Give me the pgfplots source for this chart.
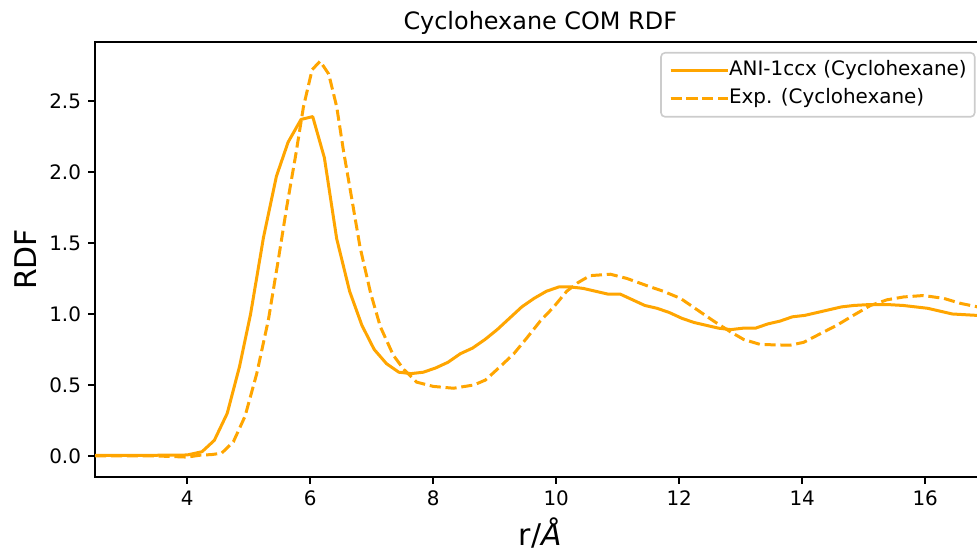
\documentclass[border=0pt]{standalone}
\usepackage{fontspec}
\setmainfont{DejaVu Sans}
\usepackage{pgfplots}
\pgfplotsset{compat=1.18}
\definecolor{mplorange}{HTML}{FFA500}

\pgfplotstableread{
x y
2.5 0.005
3.0 0.005
3.5 0.005
4.0 0.007
4.24 0.03
4.44 0.11
4.65 0.30
4.85 0.63
5.03 1.00
5.24 1.54
5.45 1.97
5.64 2.21
5.85 2.37
6.04 2.39
6.23 2.10
6.43 1.53
6.64 1.16
6.84 0.92
7.04 0.75
7.24 0.65
7.44 0.59
7.64 0.58
7.84 0.59
8.04 0.62
8.24 0.66
8.44 0.72
8.64 0.76
8.84 0.82
9.04 0.89
9.24 0.97
9.44 1.05
9.64 1.11
9.84 1.16
10.04 1.19
10.24 1.19
10.44 1.18
10.64 1.16
10.84 1.14
11.04 1.14
11.24 1.10
11.44 1.06
11.64 1.04
11.84 1.01
12.04 0.97
12.24 0.94
12.44 0.92
12.64 0.90
12.84 0.89
13.04 0.90
13.24 0.90
13.44 0.93
13.64 0.95
13.84 0.98
14.04 0.99
14.24 1.01
14.44 1.03
14.64 1.05
14.84 1.06
15.04 1.065
15.24 1.065
15.44 1.065
15.64 1.06
15.84 1.05
16.04 1.04
16.24 1.02
16.44 1.00
16.64 0.995
16.84 0.99
17.04 0.99
}\ani

\pgfplotstableread{
x y
2.5 0.0
3.0 0.0
3.5 0.0
4.0 -0.008
4.2 0.005
4.4 0.01
4.56 0.02
4.75 0.10
4.94 0.28
5.13 0.58
5.32 0.96
5.48 1.38
5.62 1.76
5.76 2.11
5.89 2.46
6.03 2.72
6.16 2.78
6.30 2.69
6.43 2.46
6.54 2.15
6.68 1.80
6.81 1.47
6.98 1.15
7.14 0.91
7.35 0.71
7.52 0.61
7.73 0.52
8.0 0.49
8.33 0.477
8.66 0.50
8.85 0.535
9.09 0.63
9.31 0.72
9.52 0.83
9.74 0.95
9.96 1.05
10.17 1.16
10.35 1.22
10.55 1.27
10.88 1.28
11.15 1.25
11.47 1.20
11.74 1.16
12.02 1.11
12.29 1.03
12.56 0.95
12.83 0.875
13.05 0.82
13.32 0.785
13.80 0.78
14.02 0.80
14.29 0.86
14.56 0.92
14.83 0.99
15.11 1.06
15.38 1.10
15.65 1.12
15.97 1.13
16.30 1.11
16.57 1.075
16.85 1.05
17.0 1.03
}\expt

\begin{document}
\begin{tikzpicture}
\begin{axis}[
  name=ax,
  scale only axis,
  width=445.25bp, height=217.35bp,
  xmin=2.5, xmax=16.98,
  ymin=-0.146, ymax=2.9155,
  xtick={4,6,...,16},
  ytick={0,0.5,...,2.5},
  yticklabel style={/pgf/number format/.cd, fixed, fixed zerofill, precision=1},
  /pgf/number format/assume math mode=true,
  tick align=outside,
  xtick pos=bottom, ytick pos=left,
  major tick length=3.5bp,
  every tick/.style={black, line width=0.8bp},
  axis line style={line width=0.8bp, black},
  tick label style={font=\fontsize{10}{12}\selectfont},
  legend style={at={(1,1)}, anchor=north east, xshift=-5bp, yshift=-5bp,
    draw=black!20, fill=white, fill opacity=0.8, text opacity=1,
    rounded corners=2bp, line width=0.8bp,
    font=\fontsize{10}{12}\selectfont,
    inner xsep=4bp, inner ysep=4bp, row sep=4bp,
    nodes={inner sep=0pt, text height=7.5bp, text depth=2.5bp},
    cells={anchor=west}},
  legend image code/.code={\draw[#1] (0bp,0bp) -- (21bp,0bp); \path (0bp,0bp) -- (28.5bp,0bp);},
]
\addplot[mplorange, line width=1.5bp, line join=round] table[x=x,y=y] {\ani};
\addlegendentry{ANI-1ccx (Cyclohexane)}
\addplot[mplorange, line width=1.5bp, dash pattern=on 5.55bp off 2.4bp] table[x=x,y=y] {\expt};
\addlegendentry{Exp. (Cyclohexane)}
\end{axis}
\node[font=\fontsize{12}{14.4}\selectfont, anchor=base] at ([yshift=6bp]ax.north) {Cyclohexane COM RDF};
\node[font=\fontsize{15}{18}\selectfont, anchor=base] at ([yshift=-34.3bp]ax.south) {r/\textit{Å}};
\node[font=\fontsize{15}{18}\selectfont, anchor=base, rotate=90] at ([xshift=-29.2bp]ax.west) {RDF};
\pgfresetboundingbox
\useasboundingbox (ax.south west) ++(-47.5bp,-37.65bp) rectangle ++(488.5bp,276bp);
\end{tikzpicture}
\end{document}
